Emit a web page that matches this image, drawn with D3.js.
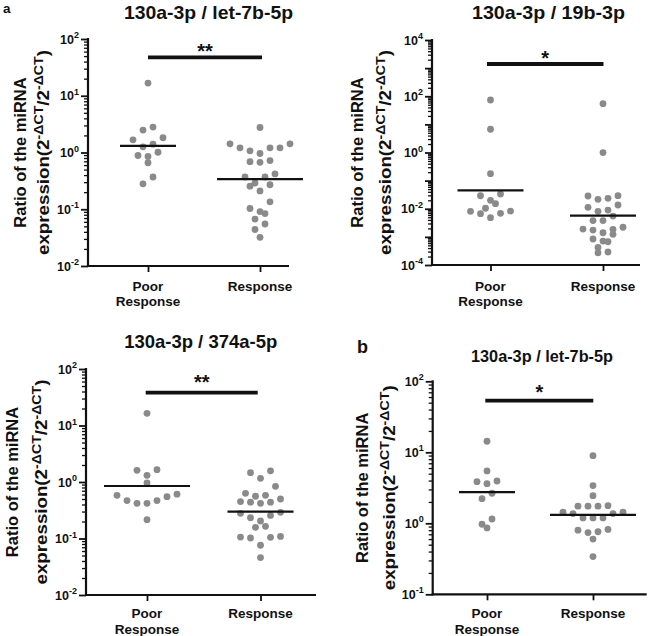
<!DOCTYPE html>
<html><head><meta charset="utf-8">
<script src="https://cdn.jsdelivr.net/npm/d3@7"></script>
<style>
body{margin:0;background:#fff}
svg{display:block}
text{font-family:"Liberation Sans",Arial,sans-serif;font-weight:bold;fill:#111}
</style>
</head><body>
<svg id="chart" width="661" height="636"></svg>
<script>
// ---------------- data ----------------
const panelTitles = ["130a-3p / let-7b-5p", "130a-3p / 19b-3p", "130a-3p / 374a-5p", "130a-3p / let-7b-5p"];
const panelLetters = ["a", "", "", "b"];
const categories = ["Poor Response", "Response"];
const categoryLines = [["Poor", "Response"], ["Response"]];
const yLabelLine1 = "Ratio of the miRNA";
const significance = ["**", "*", "**", "*"];
const yTickExponents = [[-2, -1, 0, 1, 2], [-4, -2, 0, 2, 4], [-2, -1, 0, 1, 2], [-1, 0, 1, 2]];

const p1Poor = [16.7, 2.8, 2.48, 1.82, 1.67, 1.40, 1.26, 1.01, 0.885, 0.85, 0.66, 0.37, 0.28];
const p1Resp = [2.76, 1.42, 1.42, 1.21, 1.21, 1.21, 1.07, 0.96, 0.72, 0.69, 0.67, 0.42, 0.37, 0.37,
                0.29, 0.27, 0.255, 0.21, 0.135, 0.103, 0.091, 0.084, 0.067, 0.055, 0.044, 0.032];
const p2Poor = [73.6, 6.7, 0.177, 0.0334, 0.029, 0.0199, 0.0152, 0.0104, 0.0083, 0.0081, 0.0069, 0.0067, 0.0048];
const p2Resp = [54.5, 0.99, 0.0292, 0.0284, 0.0234, 0.0216, 0.0136, 0.0112, 0.0090, 0.0081, 0.0055, 0.0038,
                0.0038, 0.0022, 0.0019, 0.00185, 0.00175, 0.0014, 0.00123, 0.00084, 0.00071, 0.00067,
                0.00042, 0.00029, 0.00027];
const p3Poor = [16.4, 1.65, 1.61, 1.31, 0.96, 0.61, 0.58, 0.55, 0.47, 0.47, 0.42, 0.42, 0.215];
const p3Resp = [1.58, 1.46, 1.16, 0.84, 0.63, 0.58, 0.56, 0.50, 0.45, 0.44, 0.44, 0.42, 0.29, 0.279,
                0.256, 0.233, 0.204, 0.164, 0.158, 0.109, 0.106, 0.105, 0.102, 0.076, 0.046];
const p4Poor = [14.3, 5.46, 3.94, 3.86, 3.62, 2.65, 2.22, 1.15, 0.97, 0.86];
const p4Resp = [8.97, 3.40, 2.45, 1.77, 1.74, 1.74, 1.74, 1.43, 1.43, 1.37, 1.37, 1.19, 1.19, 1.19,
                0.82, 0.80, 0.76, 0.74, 0.60, 0.34];
const panelSeries = [[p1Poor, p1Resp], [p2Poor, p2Resp], [p3Poor, p3Resp], [p4Poor, p4Resp]];
const medians = [[1.31, 0.34], [0.045, 0.0057], [0.85, 0.30], [2.74, 1.31]];

// ---------------- layout ----------------
const layouts = [
  {ax: 88, top: 39, bot: 266, right: 289, cx: [148, 260], tx: 208.5, ty: 18.5, tfs: 18.5, tw: 169,
   sigY: 57.3, sigX: [148, 262], starY: 57.5, lab: [26, 49], xl: 290.7, letter: [3, 12.5, 13.5], binH: 10},
  {ax: 432, top: 40, bot: 265, right: 640, cx: [490.5, 603], tx: 548.5, ty: 19, tfs: 18.5, tw: 153,
   sigY: 64, sigX: [487, 603.5], starY: 64.5, lab: [363, 391], xl: 290.7, binH: 7},
  {ax: 86, top: 369, bot: 595, right: 316, cx: [147, 260.5], tx: 200.7, ty: 348, tfs: 18.5, tw: 153,
   sigY: 392.7, sigX: [145.7, 257.7], starY: 388.5, lab: [18, 47], xl: 618.3, binH: 10},
  {ax: 432.7, top: 381.3, bot: 594.3, right: 646.7, cx: [487, 593], tx: 542, ty: 362, tfs: 16.5, tw: 142,
   sigY: 400.7, sigX: [485.3, 593.3], starY: 398.5, lab: [368, 395], xl: 618.3, letter: [357, 353, 18], binH: 6.5}
];
const DOT = "#8a8a8a";
const R = 3.4, SPACING = 10;

const svg = d3.select("#chart");

function swarm(vals, y, cx, binH) {
  const pts = vals.map(v => ({v, y: y(v)})).sort((a, b) => a.y - b.y);
  const bins = [];
  let cur = null;
  for (const p of pts) {
    if (!cur || p.y - cur.y0 >= binH) { cur = {y0: p.y, pts: []}; bins.push(cur); }
    cur.pts.push(p);
  }
  for (const b of bins) {
    const n = b.pts.length;
    const slots = d3.range(n).map(i => (i - (n - 1) / 2) * SPACING);
    slots.sort((a, c) => Math.abs(a) - Math.abs(c) || a - c);
    b.pts.slice().sort((a, c) => a.v - c.v).forEach((p, i) => p.x = cx + slots[i]);
  }
  return pts;
}

layouts.forEach((L, pi) => {
  const g = svg.append("g");
  const exps = yTickExponents[pi];
  const e0 = d3.min(exps), e1 = d3.max(exps);
  const y = d3.scaleLog().domain([Math.pow(10, e0), Math.pow(10, e1)]).range([L.bot, L.top]);
  const x = d3.scalePoint().domain(categories).range(L.cx).padding(0);

  // minor & major ticks
  const majors = d3.range(e0, e1 + 1).map(e => Math.pow(10, e));
  const minors = [];
  d3.range(e0, e1).forEach(e => { for (let k = 2; k <= 9; k++) minors.push(k * Math.pow(10, e)); });
  g.append("g").attr("transform", `translate(${L.ax},0)`)
    .call(d3.axisLeft(y).tickValues(minors).tickSize(4).tickSizeOuter(0).tickFormat(""))
    .call(s => s.select(".domain").remove())
    .selectAll("line").attr("stroke", "#111").attr("stroke-width", 1.3);
  g.append("g").attr("transform", `translate(${L.ax},0)`)
    .call(d3.axisLeft(y).tickValues(majors).tickSize(7).tickSizeOuter(0).tickFormat(""))
    .call(s => s.select(".domain").remove())
    .selectAll("line").attr("stroke", "#111").attr("stroke-width", 1.8);
  g.append("line").attr("x1", L.ax).attr("x2", L.ax).attr("y1", L.top - 1).attr("y2", L.bot + 1)
    .attr("stroke", "#111").attr("stroke-width", 2.2);
  // y tick labels
  exps.forEach(e => {
    const t = g.append("text").attr("x", L.ax - 9).attr("y", y(Math.pow(10, e)) + 4.6)
      .attr("text-anchor", "end").style("font-size", "12.5px");
    t.append("tspan").text("10");
    t.append("tspan").attr("dy", -5.5).style("font-size", "9px").text(String(e));
  });

  // x axis
  g.append("g").attr("transform", `translate(0,${L.bot})`)
    .call(d3.axisBottom(x).tickSize(6).tickSizeOuter(0).tickFormat(""))
    .call(s => s.select(".domain").remove())
    .selectAll("line").attr("stroke", "#111").attr("stroke-width", 1.8);
  g.append("line").attr("x1", L.ax - 1).attr("x2", L.right).attr("y1", L.bot).attr("y2", L.bot)
    .attr("stroke", "#111").attr("stroke-width", 2.2);
  categories.forEach((c, ci) => {
    categoryLines[ci].forEach((ln, li) => {
      g.append("text").attr("x", x(c)).attr("y", L.xl + li * 15.5).attr("text-anchor", "middle")
        .style("font-size", "13.5px").text(ln);
    });
  });

  // dots and medians
  panelSeries[pi].forEach((vals, ci) => {
    const cx = x(categories[ci]);
    const pts = swarm(vals, y, cx, L.binH);
    g.append("g").selectAll("circle").data(pts).join("circle")
      .attr("cx", d => d.x).attr("cy", d => d.y).attr("r", R).attr("fill", DOT);
    const half = Math.max(28, d3.max(pts, d => Math.abs(d.x - cx)) + 13);
    g.append("line").attr("x1", cx - half).attr("x2", cx + half)
      .attr("y1", y(medians[pi][ci])).attr("y2", y(medians[pi][ci]))
      .attr("stroke", "#111").attr("stroke-width", 2.2);
  });

  // significance
  g.append("line").attr("x1", L.sigX[0]).attr("x2", L.sigX[1]).attr("y1", L.sigY).attr("y2", L.sigY)
    .attr("stroke", "#111").attr("stroke-width", 3.8);
  g.append("text").attr("x", (L.sigX[0] + L.sigX[1]) / 2).attr("y", L.starY)
    .attr("text-anchor", "middle").style("font-size", "20px").text(significance[pi]);

  // title
  g.append("text").attr("x", L.tx).attr("y", L.ty).attr("text-anchor", "middle")
    .attr("textLength", L.tw).attr("lengthAdjust", "spacingAndGlyphs")
    .style("font-size", L.tfs + "px").text(panelTitles[pi]);
  if (panelLetters[pi]) {
    g.append("text").attr("x", L.letter[0]).attr("y", L.letter[1])
      .style("font-size", L.letter[2] + "px").text(panelLetters[pi]);
  }

  // y label
  const cy = (L.top + L.bot) / 2;
  g.append("text").attr("transform", `translate(${L.lab[0]},${cy}) rotate(-90)`)
    .attr("text-anchor", "middle").style("font-size", "16.5px").text(yLabelLine1);
  const t2 = g.append("text").attr("transform", `translate(${L.lab[1]},${cy}) rotate(-90)`)
    .attr("text-anchor", "middle").attr("textLength", 205).attr("lengthAdjust", "spacingAndGlyphs")
    .style("font-size", "16.5px");
  t2.append("tspan").text("expression(2");
  t2.append("tspan").attr("dy", -6.5).style("font-size", "12.5px").text("-\u0394CT");
  t2.append("tspan").attr("dy", 6.5).text("/2");
  t2.append("tspan").attr("dy", -6.5).style("font-size", "12.5px").text("-\u0394CT");
  t2.append("tspan").attr("dy", 6.5).text(")");
});
</script>
</body></html>
